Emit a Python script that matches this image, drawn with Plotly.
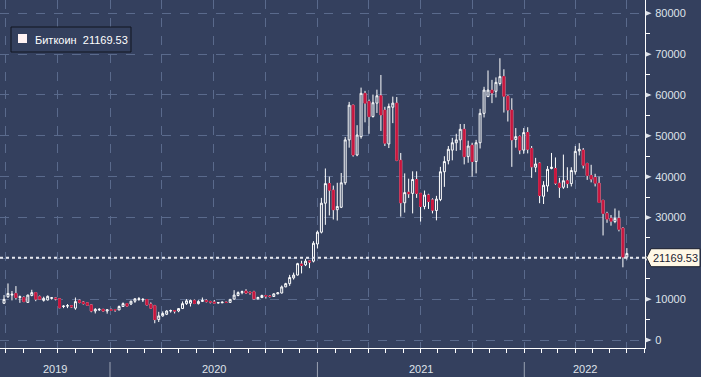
import pandas as pd
import plotly.graph_objects as go

# ---------------- data (weekly Bitcoin candles) ----------------
week_start = "2019-06-17"
opens = [
    9000, 10600, 11000, 11400, 10400, 10400, 9200, 10900, 11600, 10600, 9700, 9800, 10200, 10300,
    10100, 8200, 8300, 8400, 7800, 9700, 9300, 9100, 8600, 7100, 7400, 7500, 7100, 7400, 7400,
    7350, 8200, 8900, 8800, 9500, 9900, 9800, 9900, 8800, 8400, 5000, 5900, 6300, 7100, 7200,
    7100, 7700, 8900, 9000, 9700, 8900, 9450, 9700, 9400, 9300, 9050, 9100, 9250, 9200, 10000,
    10900, 11600, 12000, 11700, 11800, 10100, 10400, 10900, 10750, 10650, 11300, 11500, 13000,
    13800, 15200, 15900, 18600, 18400, 19350, 19300, 23500, 26400,
    33500, 38300, 36700, 31900, 32500, 38500, 49000, 57500, 45300, 49800, 60400, 58400, 54700,
    58000, 59800, 56300, 48000, 57000, 58000, 44000, 33600, 36200, 35900, 39300, 35900, 32700,
    35500, 34300, 31700, 34400, 41200, 43900, 46500, 48300, 49000, 51600, 44900, 47700, 43700,
    48300, 55500, 59600, 61200, 60900, 62800, 64500, 59700, 56300, 49100, 49800, 46500, 50800,
    46900, 42300, 43300, 35200, 37700, 42000, 42000, 38400, 37400, 39000, 38300, 41200, 46300,
    46500, 43200, 40300, 39800, 38400, 34200, 31000, 29800, 29000, 29800, 27400, 20300,
]
highs = [
    11000, 13850, 12000, 13200, 10900, 10700, 11100, 12300, 11700, 10900, 10600, 10900, 10500, 10400,
    10200, 8500, 8800, 8500, 10400, 9900, 9500, 9200, 8700, 7800, 7800, 7600, 7500, 7700, 7600,
    8450, 9200, 8950, 9600, 10150, 10500, 10250, 10000, 9200, 8600, 6900, 7000, 7300, 7450, 7300,
    7800, 9450, 10000, 9900, 9900, 9750, 10400, 9950, 9600, 9800, 9300, 9450, 9350, 10000, 12200,
    11900, 12100, 12450, 11800, 12050, 10600, 11100, 10950, 10950, 11450, 11700, 13350, 14000,
    15950, 16500, 18900, 19400, 19900, 19400, 24200, 26800, 34800,
    42000, 40000, 37800, 38500, 40900, 49700, 58300, 57600, 52600, 61800, 61000, 58900, 60100,
    61300, 64900, 57100, 57900, 59600, 59500, 45800, 40800, 39500, 41300, 41300, 36000, 36600,
    35800, 34700, 35300, 42400, 45000, 47500, 49500, 50500, 52900, 52900, 48800, 48300, 49000,
    56600, 62000, 66000, 63700, 64300, 69000, 66300, 59900, 59200, 51900, 50100, 51900, 52100,
    47500, 44600, 43500, 38900, 42600, 45800, 44700, 39700, 45400, 42300, 42300, 47500, 48200,
    47000, 43400, 42900, 40700, 40000, 34300, 31400, 30600, 32200, 31700, 27600, 22500,
]
lows = [
    8900, 10300, 9700, 9900, 9100, 9300, 9100, 10700, 9500, 9800, 9400, 9700, 9900, 9700,
    7800, 7800, 7800, 7900, 7400, 9000, 8700, 8400, 6800, 6500, 7100, 7000, 6450, 7100, 6900,
    7350, 8100, 8250, 8550, 9100, 9600, 9300, 8500, 7600, 4100, 4400, 5700, 6100, 6700, 6500,
    6800, 7600, 8600, 8200, 8800, 8700, 9300, 9200, 8950, 8950, 8950, 9050, 9050, 9150, 9950,
    10700, 11200, 11300, 11100, 9900, 9900, 10250, 10150, 10400, 10550, 11200, 11400, 12950,
    13250, 14800, 15800, 16300, 18100, 17600, 19000, 22400, 26100,
    28200, 30500, 29500, 29250, 32300, 38000, 47100, 44900, 45000, 49300, 53300, 50500, 54500,
    55600, 51200, 47500, 47000, 53100, 43800, 30200, 31200, 34800, 31000, 34800, 29000, 32000,
    32100, 31000, 29300, 34000, 37500, 43000, 44000, 46300, 46500, 43000, 43400, 40000, 40800,
    46900, 54500, 59500, 58000, 59400, 62300, 55700, 53500, 42400, 47100, 45500, 45600, 45700,
    39700, 41100, 33500, 33300, 36300, 41800, 38000, 34800, 37000, 37200, 37600, 40500, 45200,
    42000, 39200, 38600, 37600, 33700, 25600, 28700, 28000, 28600, 26600, 17800, 19700,
]
closes = [
    9950, 11400, 11200, 10400, 10600, 9400, 11000, 11600, 10000, 10000, 10200, 10700, 10350, 10100,
    7900, 8300, 8400, 8100, 9400, 9200, 8900, 8500, 7100, 7500, 7500, 7100, 7400, 7300, 7350,
    8200, 8900, 8300, 9500, 10100, 10100, 9950, 8600, 7800, 5000, 5900, 6500, 7100, 7200, 7100,
    7700, 8900, 9600, 9700, 8950, 9450, 9700, 9400, 9300, 9050, 9150, 9250, 9200, 9950, 11000,
    11600, 11850, 11500, 11550, 10100, 10400, 10900, 10750, 10650, 11300, 11550, 13000, 13800,
    15300, 15900, 18700, 18300, 19300, 19100, 23700, 26400, 33500,
    38300, 36700, 31900, 32700, 38500, 49000, 57500, 45300, 50200, 60400, 58000, 54700, 58100,
    59800, 55100, 48200, 57200, 58000, 44000, 33600, 36100, 35800, 39300, 35900, 32700, 35500,
    33900, 31800, 34500, 41200, 43700, 46700, 48300, 49000, 51600, 44900, 47500, 43700, 48300,
    55500, 61200, 61200, 60500, 63100, 64500, 59700, 56300, 49000, 49800, 46500, 50800, 46700,
    42400, 43100, 35400, 37900, 41800, 42300, 38400, 37400, 39000, 38300, 41500, 46200, 46700,
    42800, 40300, 39400, 38400, 33700, 31000, 29600, 29100, 29800, 27100, 20300, 21169.53,
]
y_ticks = [0, 10000, 20000, 30000, 40000, 50000, 60000, 70000, 80000]
year_labels = ["2019", "2020", "2021", "2022"]
series_name = "Биткоин"
last_price_text = "21169.53"
price_line_level = 20150  # where the dotted last-price line sits in the picture

# ---------------- style ----------------
BG = "#34405e"
GRID = "#5a6a8c"
RED = "#c8163e"
FG = "#ffffff"
TXT = "#dfe3ea"
FONT = "Liberation Sans, Arial, sans-serif"

W, H = 701, 377
ML, MR, MT, MB = 0, 56, 0, 29
PW, PH = W - ML - MR, H - MT - MB
Y0, Y1 = -1959, 83257
px_per_unit = PH / (Y1 - Y0)

dates = pd.date_range(week_start, periods=len(opens), freq="7D") + pd.Timedelta(days=11)
x_start = pd.Timestamp("2020-01-01") - pd.Timedelta(days=194.1)
x_end = pd.Timestamp("2020-01-01") + pd.Timedelta(days=944.0)

fig = go.Figure()
fig.add_trace(go.Candlestick(
    x=dates, open=opens, high=highs, low=lows, close=closes,
    increasing=dict(line=dict(color=FG, width=1), fillcolor=BG),
    decreasing=dict(line=dict(color=FG, width=1), fillcolor=RED),
    whiskerwidth=0, showlegend=False, hoverinfo="skip", name=series_name,
))
# red bodies drawn again on top so falling candles have no white outline
dec = [i for i in range(len(opens)) if closes[i] < opens[i]]
fig.add_trace(go.Candlestick(
    x=[dates[i] for i in dec],
    open=[opens[i] for i in dec], high=[opens[i] for i in dec],
    low=[closes[i] for i in dec], close=[closes[i] for i in dec],
    increasing=dict(line=dict(color=RED, width=1), fillcolor=RED),
    decreasing=dict(line=dict(color=RED, width=1), fillcolor=RED),
    whiskerwidth=0, showlegend=False, hoverinfo="skip",
))

quarters = pd.date_range("2019-07-01", "2022-07-01", freq="QS")
months = pd.date_range("2019-07-01", "2022-08-01", freq="MS")

fig.update_layout(
    width=W, height=H, autosize=False,
    margin=dict(l=ML, r=MR, t=MT, b=MB, pad=0),
    paper_bgcolor=BG, plot_bgcolor=BG,
    font=dict(family=FONT, size=11, color=TXT),
    showlegend=False,
    xaxis=dict(
        type="date", range=[x_start, x_end], rangeslider=dict(visible=False),
        tickmode="array", tickvals=quarters, ticktext=[""] * len(quarters),
        ticks="outside", ticklen=4, tickcolor=FG, tickwidth=1,
        showgrid=True, gridcolor=GRID, griddash="dash", gridwidth=1,
        showline=True, linecolor=FG, linewidth=1, zeroline=False,
        minor=dict(tickmode="array", tickvals=months, ticks="outside", ticklen=4,
                   tickcolor=FG, showgrid=False),
        automargin=False, fixedrange=True,
    ),
    yaxis=dict(
        side="right", range=[Y0, Y1],
        tickmode="array", tickvals=y_ticks, ticktext=[str(v) for v in y_ticks],
        ticks="outside", ticklen=7, tickcolor="rgba(0,0,0,0)",
        tickfont=dict(size=11, color=TXT, family=FONT),
        showgrid=True, gridcolor=GRID, griddash="dash", gridwidth=1,
        showline=True, linecolor=FG, linewidth=1, zeroline=False,
        minor=dict(tickmode="linear", tick0=0, dtick=5000, ticks="outside", ticklen=4,
                   tickcolor=FG, showgrid=False),
        automargin=False, fixedrange=True,
    ),
)


def px_x(p):
    return p / PW


def px_y(p):
    return (PH - p) / PH


shapes = []
# triangle markers at the y tick labels
tri_w = 6 / PW
tri_h = 2.5 / px_per_unit
for v in y_ticks:
    shapes.append(dict(
        type="path", xref="paper", yref="y",
        path=f"M {1 + 0.6/PW} {v + tri_h} L {1 + 0.6/PW + tri_w} {v} L {1 + 0.6/PW} {v - tri_h} Z",
        fillcolor=TXT, line=dict(width=0), layer="above",
    ))
# dotted last-price line
shapes.append(dict(type="line", xref="paper", yref="y", x0=0, x1=1,
                   y0=price_line_level, y1=price_line_level,
                   line=dict(color="#e6e8ee", width=2, dash="dot"), layer="above"))
# last-price callout box
hh = 9 / px_per_unit
xt, xb, xr = 1 + 1.5 / PW, 1 + 6 / PW, 1 + 55 / PW
L = price_line_level
shapes.append(dict(
    type="path", xref="paper", yref="y",
    path=f"M {xt} {L} L {xb} {L + hh} L {xr} {L + hh} L {xr} {L - hh} L {xb} {L - hh} Z",
    fillcolor="#fff8e6", line=dict(color="#1a1f2e", width=1), layer="above",
))
# year separators below the axis
for yr in ["2020-01-01", "2021-01-01", "2022-01-01"]:
    shapes.append(dict(type="line", xref="x", yref="paper", x0=yr, x1=yr,
                       y0=px_y(362), y1=px_y(377),
                       line=dict(color="#9aa2b3", width=1)))
# legend box and square
shapes.append(dict(type="rect", xref="paper", yref="paper",
                   x0=px_x(11), x1=px_x(131), y0=px_y(52), y1=px_y(27),
                   line=dict(color="#10151f", width=1), fillcolor=BG, layer="above"))
shapes.append(dict(type="rect", xref="paper", yref="paper",
                   x0=px_x(18), x1=px_x(27), y0=px_y(43), y1=px_y(34),
                   line=dict(width=0), fillcolor="#fff3f3", layer="above"))
fig.update_layout(shapes=shapes)

annotations = []
annotations.append(dict(
    xref="paper", yref="paper", x=px_x(32.5), y=px_y(39.5), xanchor="left", yanchor="middle",
    text=f"{series_name}\u00a0\u00a0{last_price_text}", showarrow=False,
    font=dict(family=FONT, size=11, color="#ffffff"),
))
annotations.append(dict(
    xref="paper", yref="y", x=1 + 6 / PW, y=L, xanchor="left", yanchor="middle",
    text=last_price_text, showarrow=False,
    font=dict(family=FONT, size=11, color="#1b2233"),
))
# year labels centred in their visible span
bounds = [x_start, pd.Timestamp("2020-01-01"), pd.Timestamp("2021-01-01"),
          pd.Timestamp("2022-01-01"), x_end]
for i, lab in enumerate(year_labels):
    mid = bounds[i] + (bounds[i + 1] - bounds[i]) / 2
    annotations.append(dict(
        xref="x", yref="paper", x=mid, y=px_y(369), xanchor="center", yanchor="middle",
        text=lab, showarrow=False, font=dict(family=FONT, size=11, color=TXT),
    ))
fig.update_layout(annotations=annotations)

fig.write_html(
    "out.html",
    config={"displayModeBar": False, "staticPlot": True},
    post_script="document.body.style.margin='0';document.body.style.overflow='hidden';",
)
